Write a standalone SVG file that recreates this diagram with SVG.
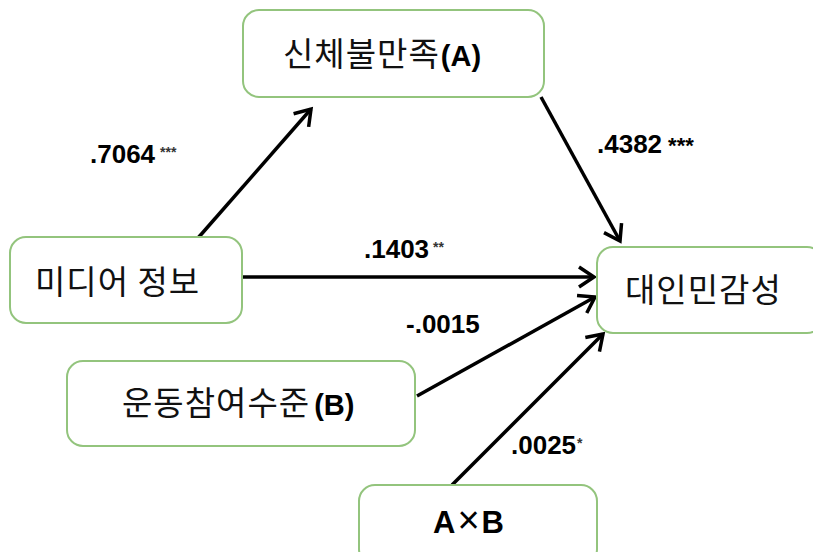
<svg xmlns="http://www.w3.org/2000/svg" width="813" height="552" viewBox="0 0 813 552">
  <defs>
    <marker id="arrow" markerUnits="userSpaceOnUse" markerWidth="30" markerHeight="30" viewBox="-20 -15 30 30" refX="0" refY="0" orient="auto">
      <path d="M-15,-10 L0,0 L-15,10" fill="none" stroke="#000" stroke-width="3.5" stroke-linejoin="miter" stroke-linecap="butt"/>
    </marker>
    <style>
      .box { fill: #fff; stroke: #93c47d; stroke-width: 2; }
      .kr { font-family: "Noto Sans CJK KR", "Noto Sans", sans-serif; font-size: 33px; letter-spacing: 1px; fill: #111; }
      .lat { font-family: "Liberation Sans", Arial, sans-serif; font-weight: bold; fill: #000; letter-spacing: 0; }
      .coef { font-family: "Liberation Sans", Arial, sans-serif; font-weight: bold; font-size: 26px; fill: #000; }
      .star { font-size: 14px; fill: #333; }
      .edge { stroke: #000; stroke-width: 3.5; fill: none; marker-end: url(#arrow); }
    </style>
  </defs>
  <rect width="813" height="552" fill="#fff"/>

  <!-- connectors -->
  <g id="connectors">
    <line class="edge" x1="198" y1="238" x2="311" y2="109"/>
    <line class="edge" x1="541" y1="97" x2="620" y2="241"/>
    <line class="edge" x1="242" y1="277" x2="594" y2="277"/>
    <line class="edge" x1="417" y1="396" x2="595" y2="297"/>
    <line class="edge" x1="452" y1="485" x2="603" y2="334"/>
  </g>

  <!-- coefficient labels -->
  <g id="coefficients">
    <text class="coef" x="90" y="163">.7064<tspan class="star" dx="5" dy="-6">***</tspan></text>
    <text class="coef" x="597" y="153">.4382<tspan dx="6" font-size="22">***</tspan></text>
    <text class="coef" x="364" y="258">.1403<tspan class="star" dx="4" dy="-6">**</tspan></text>
    <text class="coef" x="406" y="333">-.0015</text>
    <text class="coef" x="511" y="454">.0025<tspan class="star" dx="1" dy="-6">*</tspan></text>
  </g>

  <g id="node-body-dissatisfaction">
    <rect class="box" x="243" y="10" width="301" height="87" rx="16"/>
    <text class="kr" x="283" y="66">신체불만족<tspan class="lat" font-size="29" dx="1">(A)</tspan></text>
  </g>

  <g id="node-media">
    <rect class="box" x="10" y="237" width="232" height="86" rx="16"/>
    <text class="kr" x="35" y="294">미디어 정보</text>
  </g>

  <g id="node-interpersonal-sensitivity">
    <rect class="box" x="597" y="247" width="226" height="86" rx="16"/>
    <text class="kr" x="625" y="302">대인민감성</text>
  </g>

  <g id="node-exercise">
    <rect class="box" x="67" y="361" width="348" height="85" rx="16"/>
    <text class="kr" x="122" y="415">운동참여수준<tspan class="lat" font-size="29" dx="4">(B)</tspan></text>
  </g>

  <g id="node-interaction">
    <rect class="box" x="359" y="485" width="238" height="80" rx="16"/>
    <text class="lat" x="433" y="533" font-size="31">A<tspan font-weight="normal" font-size="38" dx="2">×</tspan><tspan dx="2">B</tspan></text>
  </g>
</svg>
